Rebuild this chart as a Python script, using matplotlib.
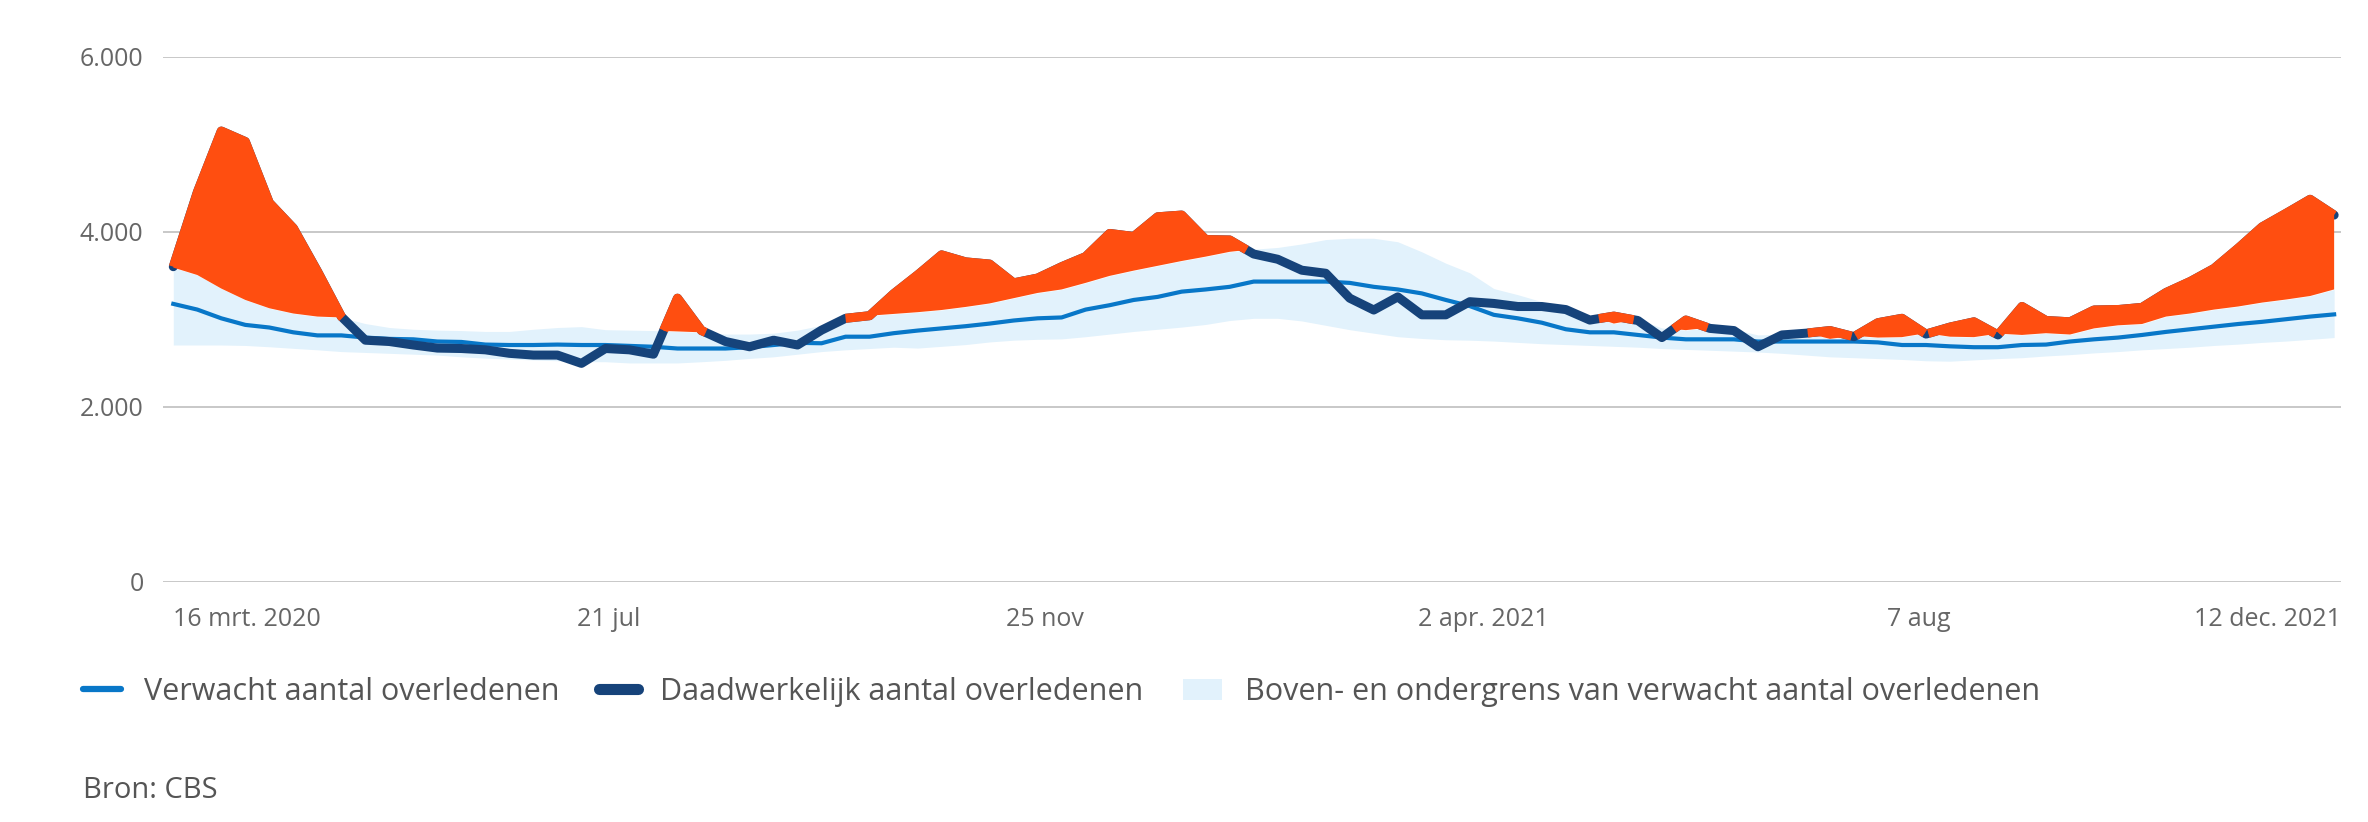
import matplotlib.pyplot as plt
import matplotlib.dates as mdates
from matplotlib.lines import Line2D
from matplotlib.patches import Patch
import numpy as np
import pandas as pd

plt.rcParams['font.family'] = ['Open Sans', 'DejaVu Sans']

# weekly data, starting week of 16 March 2020
weeks = pd.date_range('2020-03-16', periods=91, freq='7D')

actual = np.array([
    3600, 4450, 5150, 5030, 4330, 4040, 3550, 3030, 2760, 2745,
    2705, 2670, 2665, 2650, 2610, 2590, 2590, 2495, 2665, 2650,
    2600, 3240, 2870, 2745, 2685, 2760, 2705, 2875, 3010, 3040,
    3290, 3505, 3735, 3655, 3630, 3415, 3470, 3600, 3715, 3980,
    3945, 4170, 4190, 3910, 3905, 3745, 3685, 3560, 3525, 3240,
    3105, 3255, 3050, 3050, 3200, 3180, 3145, 3145, 3110, 2990,
    3035, 2985, 2790, 2990, 2895, 2870, 2685, 2820, 2840, 2870,
    2800, 2960, 3010, 2830, 2910, 2970, 2820, 3145, 2985, 2970,
    3105, 3110, 3135, 3305, 3430, 3580, 3810, 4055, 4210, 4370,
    4190])

expected = np.array([
    3175, 3110, 3010, 2935, 2905, 2850, 2815, 2815, 2790, 2775,
    2770, 2745, 2740, 2710, 2705, 2705, 2710, 2705, 2705, 2695,
    2685, 2665, 2665, 2665, 2680, 2705, 2730, 2725, 2800, 2800,
    2840, 2870, 2895, 2920, 2950, 2985, 3010, 3020, 3110, 3160,
    3220, 3255, 3315, 3340, 3370, 3430, 3430, 3430, 3430, 3415,
    3370, 3340, 3295, 3220, 3150, 3050, 3010, 2960, 2885, 2850,
    2850, 2820, 2790, 2770, 2770, 2770, 2745, 2745, 2745, 2745,
    2745, 2735, 2705, 2705, 2690, 2680, 2680, 2705, 2710, 2745,
    2770, 2790, 2820, 2855, 2885, 2915, 2945, 2970, 3000, 3030,
    3055])

upper = np.array([
    3590, 3505, 3350, 3220, 3125, 3065, 3030, 3020, 2950, 2905,
    2885, 2875, 2870, 2860, 2860, 2885, 2905, 2915, 2880, 2875,
    2870, 2860, 2850, 2830, 2830, 2840, 2875, 2930, 3010, 3040,
    3060, 3080, 3105, 3140, 3180, 3240, 3300, 3340, 3415, 3495,
    3555, 3610, 3665, 3715, 3770, 3800, 3820, 3860, 3910, 3925,
    3925, 3885, 3770, 3640, 3530, 3350, 3280, 3200, 3120, 3040,
    2950, 3000, 2900, 2875, 2905, 2885, 2820, 2830, 2845, 2775,
    2810, 2790, 2795, 2840, 2800, 2795, 2835, 2820, 2840, 2825,
    2895, 2930, 2945, 3030, 3065, 3110, 3145, 3190, 3225, 3265,
    3340])

lower = np.array([
    2705, 2705, 2705, 2700, 2685, 2667, 2650, 2630, 2620, 2610,
    2600, 2590, 2570, 2555, 2545, 2535, 2525, 2515, 2514, 2500,
    2500, 2500, 2514, 2530, 2552, 2570, 2600, 2630, 2650, 2665,
    2680, 2670, 2690, 2710, 2740, 2760, 2770, 2775, 2800, 2830,
    2860, 2885, 2910, 2940, 2985, 3010, 3010, 2980, 2930, 2880,
    2840, 2800, 2780, 2765, 2760, 2750, 2735, 2720, 2710, 2700,
    2690, 2680, 2665, 2655, 2645, 2635, 2625, 2610, 2590, 2570,
    2560, 2550, 2540, 2525, 2520, 2535, 2550, 2560, 2580, 2595,
    2615, 2630, 2650, 2665, 2680, 2700, 2715, 2735, 2750, 2770,
    2790])

tick_dates = pd.to_datetime(['2020-03-16', '2020-07-21', '2020-11-25',
                             '2021-04-02', '2021-08-07', '2021-12-12'])
tick_labels = ['16 mrt. 2020', '21 jul', '25 nov', '2 apr. 2021', '7 aug', '12 dec. 2021']

legend_labels = ['Verwacht aantal overledenen',
                 'Daadwerkelijk aantal overledenen',
                 'Boven- en ondergrens van verwacht aantal overledenen']

c_expected = '#0877c8'
c_actual = '#16437a'
c_band = '#e2f2fc'
c_excess = '#ff4e10'
c_text = '#555555'

fig = plt.figure(figsize=(23.68, 8.22), dpi=100)
ax = fig.add_axes([163 / 2368, 1 - 581.7 / 822, (2341 - 163) / 2368, 525 / 822])

ax.fill_between(weeks, lower, upper, color=c_band, lw=0, zorder=1)
ax.plot(weeks, expected, color=c_expected, lw=3, zorder=2, solid_joinstyle='round')
ax.plot(weeks, actual, color=c_actual, lw=6.5, zorder=3,
        solid_joinstyle='round', solid_capstyle='round')
ax.fill_between(weeks, upper, actual, where=actual > upper, interpolate=True,
                color=c_excess, lw=0, zorder=4)

# cover the dark line where it runs above the upper bound
x = mdates.date2num(weeks)
xf = np.linspace(x[0], x[-1], (len(x) - 1) * 40 + 1)
af = np.interp(xf, x, actual)
uf = np.interp(xf, x, upper)
ax.plot(xf, np.ma.masked_where(af < uf, af), color=c_excess, lw=6.5,
        solid_capstyle='butt', solid_joinstyle='round', zorder=5)

lo = weeks[0] - pd.Timedelta(days=3)
hi = weeks[-1] + pd.Timedelta(days=2)
ax.set_xlim(lo, hi)
ax.set_ylim(0, 6000)
ax.set_yticks([0, 2000, 4000, 6000])
ax.set_yticklabels(['0', '2.000', '4.000', '6.000'])
ax.grid(axis='y', color='#c4c4c4', lw=1.3)
ax.set_axisbelow(True)
for s in ax.spines.values():
    s.set_visible(False)

ax.set_xticks([min(max(d, lo), hi) for d in tick_dates])
ax.set_xticklabels(tick_labels)
labels = ax.get_xticklabels()
labels[0].set_ha('left')
labels[-1].set_ha('right')
ax.tick_params(axis='x', length=0, pad=18, labelsize=18, labelcolor='#666666')
ax.tick_params(axis='y', length=0, pad=14, labelsize=18, labelcolor='#666666')

handles = [Line2D([], [], color=c_expected, lw=4.5, solid_capstyle='round'),
           Line2D([], [], color=c_actual, lw=8, solid_capstyle='round'),
           Patch(facecolor=c_band, edgecolor='none')]
leg = fig.legend(handles, legend_labels, loc='center left',
                 bbox_to_anchor=(83 / 2368, 1 - 692 / 822), ncol=3, frameon=False,
                 fontsize=22, handlelength=1.25, handletextpad=0.75,
                 columnspacing=1.3, borderpad=0, borderaxespad=0)
for t in leg.get_texts():
    t.set_color(c_text)

fig.text(83 / 2368, 1 - 790 / 822, 'Bron: CBS', fontsize=21, color=c_text, va='center')

fig.savefig('out.png', dpi=100, facecolor='white')
